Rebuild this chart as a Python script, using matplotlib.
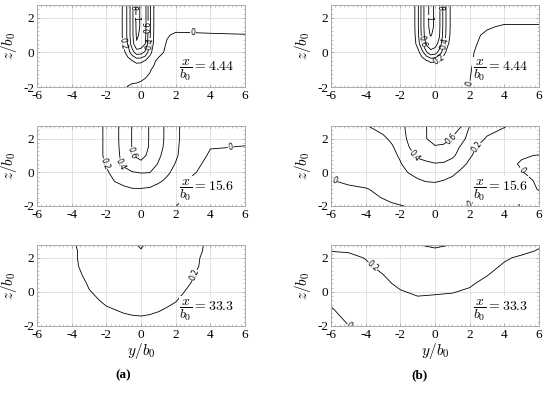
import numpy as np
import matplotlib.pyplot as plt
from matplotlib.ticker import MultipleLocator

plt.rcParams['mathtext.fontset'] = 'cm'
plt.rcParams['font.family'] = ['Liberation Serif', 'DejaVu Serif']
plt.rcParams['axes.unicode_minus'] = False

# ---- measured grids (y/b0 across, z/b0 rows from bottom to top) ----
stations = ['4.44', '15.6', '33.3']

# x/b0 = 4.44
y_near = [-6, -3, -2, -1.25, -1, -0.75, -0.5, -0.25, 0, 0.25, 0.5, 0.75, 1, 1.5, 2, 3, 4, 6]
z_near = [-2, -1, -0.5, 0, 0.5, 1, 1.5, 2, 2.75]
u_a1 = [
    [0.02, 0.02, 0.015, 0.01, 0.005, -0.002, -0.01, -0.015, -0.02, -0.02, -0.02, -0.02, -0.02, -0.02, -0.02, -0.02, -0.02, -0.02],
    [0.03, 0.03, 0.03, 0.03, 0.03, 0.03, 0.04, 0.05, 0.04, 0.02, 0.005, -0.01, -0.02, -0.03, -0.03, -0.03, -0.03, -0.03],
    [0.04, 0.04, 0.04, 0.05, 0.07, 0.12, 0.19, 0.25, 0.24, 0.18, 0.08, 0.01, -0.02, -0.03, -0.03, -0.03, -0.03, -0.03],
    [0.05, 0.05, 0.05, 0.07, 0.15, 0.30, 0.52, 0.70, 0.68, 0.55, 0.28, 0.10, 0.03, -0.02, -0.03, -0.03, -0.02, -0.02],
    [0.05, 0.05, 0.06, 0.09, 0.22, 0.43, 0.72, 0.98, 0.93, 0.80, 0.40, 0.16, 0.06, -0.01, -0.03, -0.02, -0.02, -0.015],
    [0.05, 0.05, 0.06, 0.10, 0.25, 0.46, 0.76, 1.03, 0.96, 0.84, 0.44, 0.18, 0.08, 0.01, -0.02, -0.015, -0.01, -0.005],
    [0.05, 0.05, 0.06, 0.10, 0.25, 0.46, 0.76, 1.05, 0.98, 0.86, 0.45, 0.19, 0.10, 0.05, 0.04, 0.035, 0.035, 0.04],
    [0.05, 0.05, 0.06, 0.10, 0.25, 0.46, 0.76, 1.05, 0.98, 0.86, 0.45, 0.19, 0.10, 0.06, 0.05, 0.04, 0.04, 0.04],
    [0.05, 0.05, 0.06, 0.10, 0.25, 0.46, 0.76, 1.05, 0.98, 0.86, 0.45, 0.19, 0.10, 0.06, 0.05, 0.04, 0.04, 0.04],
]
u_b1 = [
    [0.02, 0.02, 0.02, 0.02, 0.02, 0.02, 0.02, 0.02, 0.02, 0.02, 0.02, 0.02, 0.015, 0.01, -0.001, -0.02, -0.03, -0.03],
    [0.03, 0.03, 0.03, 0.03, 0.035, 0.04, 0.04, 0.04, 0.04, 0.04, 0.035, 0.03, 0.03, 0.02, 0.004, -0.035, -0.04, -0.04],
    [0.03, 0.03, 0.03, 0.04, 0.05, 0.09, 0.17, 0.23, 0.22, 0.15, 0.07, 0.04, 0.03, 0.02, 0.007, -0.03, -0.04, -0.04],
    [0.04, 0.04, 0.04, 0.05, 0.12, 0.32, 0.56, 0.74, 0.70, 0.52, 0.28, 0.10, 0.05, 0.03, 0.01, -0.03, -0.03, -0.03],
    [0.04, 0.04, 0.04, 0.09, 0.28, 0.58, 0.84, 0.92, 0.88, 0.74, 0.45, 0.22, 0.09, 0.04, 0.015, -0.02, -0.03, -0.03],
    [0.04, 0.04, 0.05, 0.11, 0.33, 0.66, 0.93, 1.01, 0.96, 0.82, 0.52, 0.27, 0.11, 0.04, 0.025, -0.015, -0.03, -0.03],
    [0.04, 0.04, 0.05, 0.12, 0.35, 0.68, 0.95, 1.04, 0.98, 0.84, 0.54, 0.28, 0.12, 0.06, 0.04, 0.01, -0.01, -0.01],
    [0.04, 0.04, 0.05, 0.12, 0.35, 0.68, 0.95, 1.04, 0.98, 0.84, 0.54, 0.28, 0.12, 0.06, 0.05, 0.04, 0.03, 0.03],
    [0.04, 0.04, 0.05, 0.12, 0.35, 0.68, 0.95, 1.04, 0.98, 0.84, 0.54, 0.28, 0.12, 0.06, 0.05, 0.04, 0.03, 0.03],
]

# x/b0 = 15.6
y_mid_a = [-6, -4, -3, -2, -1.5, -1, -0.5, 0, 0.5, 1, 1.5, 2, 2.5, 3, 4, 5, 6]
z_mid_a = [-2, -1, -0.5, 0, 0.5, 1, 1.5, 2, 2.75]
u_a2 = [
    [0.005, 0.01, 0.02, 0.03, 0.04, 0.05, 0.06, 0.06, 0.05, 0.03, 0.015, 0.001, -0.01, -0.02, -0.03, -0.03, -0.03],
    [0.01, 0.02, 0.04, 0.08, 0.12, 0.16, 0.19, 0.19, 0.18, 0.14, 0.09, 0.05, 0.01, -0.02, -0.03, -0.03, -0.03],
    [0.01, 0.03, 0.06, 0.12, 0.21, 0.26, 0.29, 0.30, 0.28, 0.23, 0.17, 0.08, 0.02, -0.01, -0.03, -0.03, -0.03],
    [0.02, 0.04, 0.09, 0.18, 0.25, 0.33, 0.39, 0.41, 0.405, 0.32, 0.23, 0.15, 0.06, 0.005, -0.02, -0.02, -0.02],
    [0.03, 0.05, 0.10, 0.21, 0.32, 0.44, 0.54, 0.57, 0.50, 0.39, 0.29, 0.19, 0.08, 0.02, -0.02, -0.02, -0.02],
    [0.03, 0.06, 0.12, 0.22, 0.33, 0.46, 0.595, 0.64, 0.57, 0.43, 0.33, 0.23, 0.12, 0.04, -0.01, -0.015, -0.02],
    [0.03, 0.06, 0.12, 0.22, 0.34, 0.47, 0.61, 0.66, 0.59, 0.46, 0.35, 0.24, 0.13, 0.06, 0.003, 0.001, -0.005],
    [0.03, 0.06, 0.12, 0.22, 0.34, 0.48, 0.61, 0.68, 0.59, 0.47, 0.36, 0.25, 0.14, 0.09, 0.03, 0.03, 0.03],
    [0.03, 0.06, 0.12, 0.22, 0.34, 0.48, 0.61, 0.68, 0.59, 0.47, 0.36, 0.25, 0.14, 0.09, 0.05, 0.04, 0.04],
]
y_mid_b = [-6, -5, -4, -3, -2.5, -2, -1.5, -1, -0.5, 0, 0.5, 1, 1.5, 2, 2.5, 3, 4, 5, 6]
z_mid_b = [-2, -1.5, -1, -0.5, 0, 0.5, 1, 1.5, 2, 2.75]
u_b2 = [
    [-0.08, -0.06, -0.04, -0.02, -0.01, -0.004, 0.005, 0.02, 0.03, 0.03, 0.03, 0.02, 0.006, -0.003, -0.01, -0.02, -0.015, 0.002, 0.01],
    [-0.06, -0.04, -0.02, 0.003, 0.015, 0.03, 0.05, 0.06, 0.07, 0.07, 0.06, 0.05, 0.03, 0.015, 0.003, -0.01, -0.01, 0.005, 0.01],
    [-0.04, -0.02, -0.005, 0.02, 0.04, 0.06, 0.08, 0.10, 0.12, 0.12, 0.11, 0.09, 0.06, 0.04, 0.03, 0.02, 0.02, 0.015, -0.002],
    [-0.005, 0.02, 0.03, 0.05, 0.07, 0.10, 0.13, 0.18, 0.21, 0.22, 0.195, 0.16, 0.12, 0.08, 0.06, 0.05, 0.03, 0.02, -0.01],
    [0.02, 0.03, 0.05, 0.08, 0.11, 0.15, 0.21, 0.26, 0.29, 0.30, 0.28, 0.24, 0.17, 0.12, 0.08, 0.06, 0.04, 0.004, -0.03],
    [0.05, 0.06, 0.07, 0.10, 0.13, 0.19, 0.26, 0.32, 0.36, 0.39, 0.38, 0.32, 0.25, 0.17, 0.11, 0.07, 0.03, -0.01, -0.02],
    [0.06, 0.07, 0.08, 0.12, 0.16, 0.22, 0.33, 0.44, 0.48, 0.50, 0.49, 0.44, 0.32, 0.22, 0.15, 0.10, 0.05, 0.01, -0.005],
    [0.07, 0.08, 0.10, 0.14, 0.18, 0.27, 0.398, 0.48, 0.55, 0.59, 0.57, 0.49, 0.38, 0.28, 0.18, 0.13, 0.10, 0.08, 0.07],
    [0.08, 0.10, 0.13, 0.17, 0.23, 0.33, 0.43, 0.52, 0.598, 0.64, 0.66, 0.59, 0.46, 0.34, 0.26, 0.18, 0.13, 0.11, 0.10],
    [0.10, 0.14, 0.19, 0.26, 0.31, 0.37, 0.43, 0.52, 0.598, 0.66, 0.69, 0.66, 0.61, 0.395, 0.33, 0.28, 0.21, 0.15, 0.12],
]

# x/b0 = 33.3
y_far_a = [-6, -5, -4, -3, -2, -1, -0.5, 0, 0.5, 1, 2, 3, 4, 5, 6]
z_far = [-2, -1.5, -1, -0.5, 0, 0.5, 1, 1.5, 2, 2.4, 2.75]
u_a3 = [
    [0.005, 0.02, 0.04, 0.08, 0.12, 0.15, 0.155, 0.16, 0.155, 0.145, 0.12, 0.07, 0.04, 0.02, 0.005],
    [0.005, 0.03, 0.06, 0.11, 0.16, 0.185, 0.192, 0.195, 0.19, 0.18, 0.15, 0.10, 0.05, 0.03, 0.005],
    [0.01, 0.04, 0.08, 0.14, 0.19, 0.215, 0.222, 0.225, 0.22, 0.21, 0.18, 0.13, 0.07, 0.04, 0.01],
    [0.02, 0.05, 0.10, 0.17, 0.22, 0.24, 0.245, 0.25, 0.245, 0.235, 0.205, 0.15, 0.09, 0.05, 0.02],
    [0.03, 0.07, 0.12, 0.195, 0.23, 0.25, 0.255, 0.26, 0.255, 0.25, 0.22, 0.18, 0.11, 0.07, 0.03],
    [0.04, 0.08, 0.14, 0.21, 0.24, 0.26, 0.265, 0.27, 0.265, 0.26, 0.23, 0.195, 0.13, 0.08, 0.04],
    [0.05, 0.09, 0.17, 0.22, 0.25, 0.27, 0.275, 0.28, 0.275, 0.27, 0.24, 0.205, 0.14, 0.09, 0.05],
    [0.06, 0.10, 0.18, 0.23, 0.26, 0.28, 0.285, 0.29, 0.285, 0.28, 0.25, 0.22, 0.16, 0.10, 0.06],
    [0.07, 0.11, 0.185, 0.23, 0.26, 0.28, 0.29, 0.30, 0.29, 0.28, 0.26, 0.22, 0.17, 0.11, 0.07],
    [0.08, 0.12, 0.185, 0.23, 0.26, 0.29, 0.33, 0.39, 0.32, 0.29, 0.26, 0.23, 0.175, 0.12, 0.08],
    [0.08, 0.12, 0.19, 0.23, 0.26, 0.29, 0.37, 0.42, 0.36, 0.29, 0.26, 0.23, 0.18, 0.12, 0.08],
]
y_far_b = [-6, -5, -4, -3, -2, -1, 0, 1, 2, 3, 4, 5, 6]
u_b3 = [
    [-0.05, -0.002, 0.03, 0.04, 0.06, 0.09, 0.09, 0.08, 0.06, 0.04, 0.03, 0.02, 0.02],
    [-0.03, 0.02, 0.04, 0.06, 0.08, 0.12, 0.12, 0.11, 0.08, 0.06, 0.04, 0.03, 0.03],
    [-0.007, 0.04, 0.06, 0.08, 0.11, 0.15, 0.15, 0.14, 0.11, 0.08, 0.06, 0.04, 0.04],
    [0.02, 0.06, 0.08, 0.11, 0.15, 0.18, 0.18, 0.17, 0.15, 0.11, 0.08, 0.06, 0.05],
    [0.05, 0.08, 0.10, 0.14, 0.19, 0.22, 0.21, 0.205, 0.185, 0.14, 0.10, 0.08, 0.07],
    [0.08, 0.10, 0.12, 0.17, 0.23, 0.25, 0.24, 0.235, 0.215, 0.17, 0.12, 0.10, 0.09],
    [0.11, 0.12, 0.15, 0.198, 0.26, 0.28, 0.27, 0.265, 0.25, 0.205, 0.15, 0.12, 0.11],
    [0.14, 0.14, 0.18, 0.23, 0.29, 0.31, 0.30, 0.295, 0.28, 0.235, 0.185, 0.15, 0.13],
    [0.17, 0.17, 0.205, 0.26, 0.32, 0.34, 0.33, 0.325, 0.31, 0.26, 0.215, 0.18, 0.16],
    [0.202, 0.21, 0.225, 0.28, 0.34, 0.36, 0.37, 0.35, 0.33, 0.28, 0.235, 0.23, 0.19],
    [0.22, 0.23, 0.245, 0.30, 0.36, 0.395, 0.43, 0.395, 0.35, 0.30, 0.255, 0.25, 0.215],
]

levels_near = [0, 0.2, 0.4, 0.6, 0.8, 1.0]
levels_mid = [0, 0.2, 0.4, 0.6]

panels = [
    # (row, col, y, z, u, levels, labelled levels)
    (0, 0, y_near, z_near, u_a1, levels_near, levels_near),
    (0, 1, y_near, z_near, u_b1, levels_near, levels_near),
    (1, 0, y_mid_a, z_mid_a, u_a2, levels_mid, levels_mid),
    (1, 1, y_mid_b, z_mid_b, u_b2, levels_mid, levels_mid),
    (2, 0, y_far_a, z_far, u_a3, [0.2, 0.4], [0.2]),
    (2, 1, y_far_b, z_far, u_b3, [0, 0.2, 0.4], [0, 0.2]),
]


def fmt(v):
    if abs(v) < 1e-9:
        return '0'
    if abs(v - 1) < 1e-9:
        return '1'
    return f'{v:.1f}'


fig = plt.figure(figsize=(5.5, 3.93), dpi=100)
W, H = 550, 393
lefts = [37, 331]
width = 208
rows = [(5, 87), (126, 206), (245, 326)]

for r, c, y, z, u, levels, lab in panels:
    top, bot = rows[r]
    ax = fig.add_axes([lefts[c] / W, 1 - bot / H, width / W, (bot - top) / H])
    cs = ax.contour(np.array(y), np.array(z), np.array(u), levels=levels,
                    colors='k', linewidths=0.6)
    texts = ax.clabel(cs, levels=lab, fmt=fmt, fontsize=5.5, inline=True,
                      inline_spacing=1)
    for t in texts:
        t.set_family('DejaVu Sans')

    ax.set_xlim(-6, 6)
    ax.set_ylim(-2, 2.75)
    ax.xaxis.set_major_locator(MultipleLocator(2))
    ax.yaxis.set_major_locator(MultipleLocator(2))
    ax.xaxis.set_minor_locator(MultipleLocator(0.25))
    ax.yaxis.set_minor_locator(MultipleLocator(0.25))
    ax.grid(True, which='major', color='#d8d8d8', linestyle='-', linewidth=0.5)
    ax.tick_params(which='both', direction='in', top=True, right=True,
                   color='#999999', labelsize=9.5, pad=2)
    ax.tick_params(which='major', length=2.5, width=0.5)
    ax.tick_params(which='minor', length=1.5, width=0.4)
    for s in ax.spines.values():
        s.set_color('#aaaaaa')
        s.set_linewidth(0.7)
    ax.set_ylabel('$z/b_0$', fontsize=11, labelpad=3)
    if r == 2:
        ax.set_xlabel('$y/b_0$', fontsize=11, labelpad=0)

    ax.text(0.95, 0.2, r'$\dfrac{x}{b_0} = ' + stations[r] + '$', transform=ax.transAxes,
            ha='right', va='center', fontsize=10,
            bbox=dict(facecolor='white', edgecolor='none', pad=0.5))

fig.text(123 / W, 1 - 375 / H, '(a)', ha='center', va='center', fontsize=9.5,
         fontweight='bold')
fig.text(420 / W, 1 - 375 / H, '(b)', ha='center', va='center', fontsize=9.5,
         fontweight='bold')

fig.savefig('out.png', dpi=100)
